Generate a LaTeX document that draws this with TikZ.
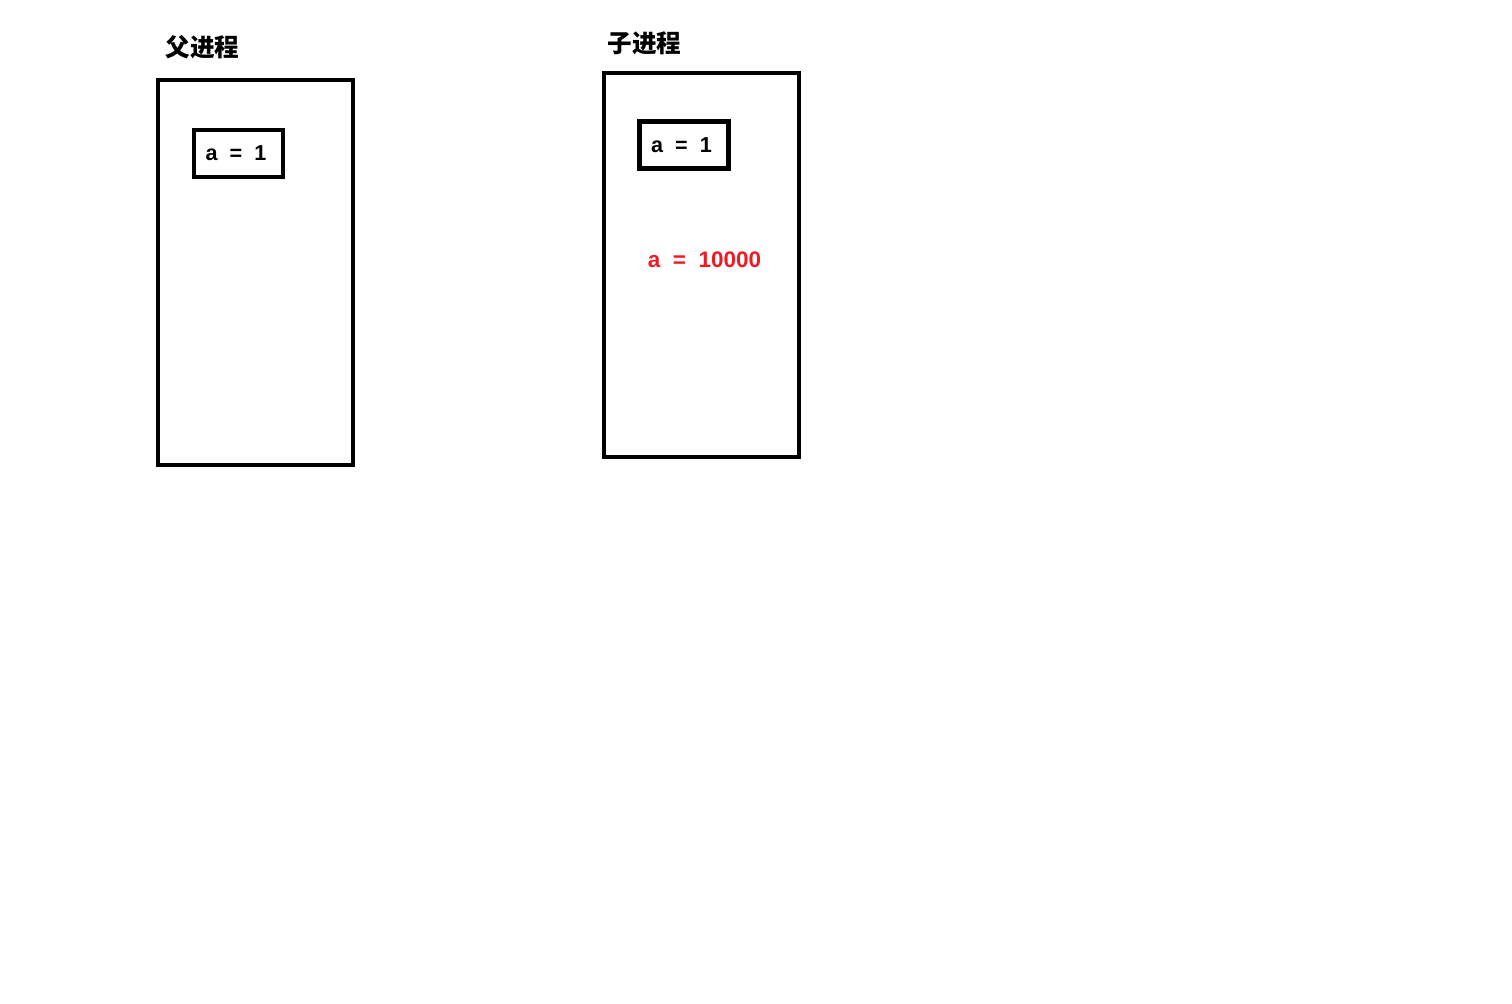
\documentclass[tikz,border=0pt]{standalone}
\usepackage{fontspec}
\setmainfont{Liberation Sans}
\newfontfamily\cjk{Noto Sans CJK SC}
\usepackage{xcolor}
\definecolor{varred}{RGB}{237,28,36}

\begin{document}
\begin{tikzpicture}[x=0.02cm,y=-0.02cm,
		proc/.style={draw, line width=2.3pt, inner sep=0pt, minimum width=3.9cm, minimum height=7.7cm},
		varbox/.style={draw, line width=2.3pt, inner sep=0pt, minimum width=1.78cm, minimum height=0.94cm, font=\fontsize{12.3}{14}\selectfont\bfseries},
		title/.style={font=\cjk\fontsize{14}{16}\selectfont\bfseries}]
		\useasboundingbox (0,0) rectangle (1512,1004);
		
		% parent process
		\node[proc] (parent) at (255.5,272.5) {};
		\node[title] (parenttitle) at (202.5,47.5) {父进程};
		\node[varbox] (parentvar) at (238.5,153.5) {\hspace{-0.1cm}a\ \ =\ \ 1};
		
		% child process
		\node[proc] (child) at (701.5,265) {};
		\node[title] (childtitle) at (644.5,43) {子进程};
		\node[varbox] (childvar) at (684,145) {\hspace{-0.1cm}a\ \ =\ \ 1};
		\node[font=\fontsize{12.8}{15}\selectfont\bfseries, text=varred] (childnew) at (704.5,260) {a\ \ =\ \ 10000};
	\end{tikzpicture}
\end{document}
